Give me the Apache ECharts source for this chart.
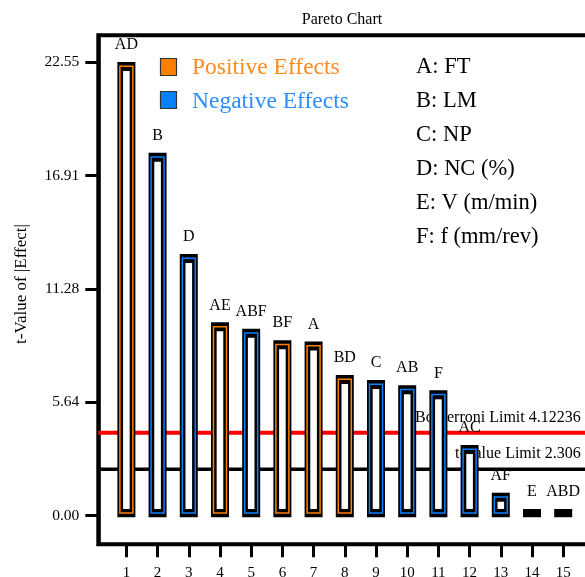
<!DOCTYPE html>
<html>
<head>
<meta charset="utf-8">
<script src="https://cdn.jsdelivr.net/npm/echarts@6/dist/echarts.min.js"></script>
<style>html,body{margin:0;padding:0;background:#fff}#main{width:585px;height:577px}</style>
</head>
<body>
<div id="main"></div>
<script>
// ---- data ----
const categories = ['AD','B','D','AE','ABF','BF','A','BD','C','AB','F','AC','AF','E','ABD'];
const rankNumbers = [1,2,3,4,5,6,7,8,9,10,11,12,13,14,15];
const tValues = [22.55,18.04,13.01,9.61,9.29,8.72,8.66,6.99,6.74,6.48,6.23,3.51,1.14,0.33,0.33];
const effectSign = ['+','-','-','+','-','+','+','+','-','-','-','-','-','-','+'];
const yTickValues = [0, 5.6375, 11.275, 16.9125, 22.55];
const yTickLabels = ['0.00','5.64','11.28','16.91','22.55'];
const bonferroniLimit = 4.12236;
const tValueLimit = 2.306;
const bonferroniText = 'Bonferroni Limit 4.12236';
const tValueText = 't-Value Limit 2.306';
const factorKey = ['A: FT','B: LM','C: NP','D: NC (%)','E: V (m/min)','F: f (mm/rev)'];
const legendNames = ['Positive Effects','Negative Effects'];
const titleText = 'Pareto Chart';
const yAxisTitle = 't-Value of |Effect|';

const ORANGE = '#FF8000', BLUE = '#0A80FF';
const SERIF = '"Liberation Serif", "Times New Roman", serif';
const X_MIN = 0.1, X_MAX = 16;

const chart = echarts.init(document.getElementById('main'), null, {renderer: 'canvas'});

const barData = tValues.map((v, i) => [rankNumbers[i], v, effectSign[i] === '+' ? 1 : 0, i]);

function renderBar(params, api) {
  const x = api.value(0), v = api.value(1), pos = api.value(2), idx = api.value(3);
  const top = api.coord([x, v]);
  const base = api.coord([x, 0]);
  const cx = top[0], yT = top[1], yB = base[1] + 1.6;
  const h = yB - yT;
  const col = pos ? ORANGE : BLUE;
  const children = [
    {type: 'rect', shape: {x: cx - 9, y: yT, width: 18, height: h}, style: {fill: '#000'}}
  ];
  if (h > 9) {
    children.push({type: 'rect', shape: {x: cx - 6.5, y: yT + 4.3, width: 13, height: h - 8.6},
      style: {fill: null, stroke: col, lineWidth: 1.5}});
  }
  if (h > 18) {
    children.push({type: 'rect', shape: {x: cx - 3.3, y: yT + 9, width: 6.6, height: h - 17.3},
      style: {fill: '#fff'}});
  }
  children.push({type: 'text', style: {text: categories[idx], x: cx, y: yT - 17,
    align: 'center', verticalAlign: 'middle', fontSize: 16, fontFamily: SERIF, fill: '#000'}});
  return {type: 'group', children: children};
}

function limitSeries(val, labelX, text, color, width) {
  return {
    type: 'line', z: 1, silent: true, symbol: 'circle', symbolSize: 0.1, showSymbol: true,
    lineStyle: {color: color, width: width}, itemStyle: {color: color},
    data: [
      [X_MIN, val],
      {value: [labelX, val], label: {show: true, position: 'top', distance: 7, align: 'left',
        formatter: text, fontSize: 16, fontFamily: SERIF, color: '#000'}},
      [X_MAX, val]
    ],
    label: {show: false}
  };
}

const option = {
  animation: false,
  backgroundColor: '#fff',
  grid: {left: 98.3, top: 35.3, right: -9.4, bottom: 32.8, show: true,
    borderColor: '#000', borderWidth: 4, backgroundColor: 'transparent', containLabel: false,
    outerBoundsMode: 'none'},
  xAxis: {
    type: 'value', min: X_MIN, max: X_MAX,
    axisLine: {onZero: false, lineStyle: {color: '#000', width: 3}},
    axisTick: {show: true, inside: false, length: 13, customValues: rankNumbers,
      lineStyle: {color: '#000', width: 3}},
    axisLabel: {customValues: rankNumbers, margin: 21, fontSize: 15, fontFamily: SERIF, color: '#000'},
    splitLine: {show: false}
  },
  yAxis: {
    type: 'value', min: -1.42, max: 23.88,
    axisLine: {show: true, onZero: false, lineStyle: {color: '#000', width: 3.5}},
    axisTick: {show: true, inside: false, length: 13, customValues: yTickValues,
      lineStyle: {color: '#000', width: 3}},
    axisLabel: {customValues: yTickValues, margin: 19, fontSize: 15.5, fontFamily: SERIF, color: '#000',
      formatter: function (val) {
        let best = 0;
        yTickValues.forEach((t, i) => { if (Math.abs(t - val) < Math.abs(yTickValues[best] - val)) best = i; });
        return yTickLabels[best];
      }},
    splitLine: {show: false}
  },
  series: [
    limitSeries(bonferroniLimit, 10.25, bonferroniText, '#FF0000', 4),
    limitSeries(tValueLimit, 11.53, tValueText, '#000000', 3.5),
    {type: 'custom', z: 3, renderItem: renderBar, data: barData, clip: false,
      encode: {x: 0, y: 1}}
  ],
  graphic: [
    {type: 'text', x: 342, y: 20, style: {text: titleText, align: 'center', verticalAlign: 'middle',
      fontSize: 16, fontFamily: SERIF, fill: '#000'}},
    {type: 'text', x: 22, y: 284, rotation: Math.PI / 2, style: {text: yAxisTitle, align: 'center',
      verticalAlign: 'middle', fontSize: 17, fontFamily: SERIF, fill: '#000'}},
    {type: 'rect', shape: {x: 160.5, y: 58.5, width: 16, height: 17}, style: {fill: ORANGE, stroke: '#333', lineWidth: 1.2}},
    {type: 'rect', shape: {x: 160.5, y: 91.5, width: 16, height: 17}, style: {fill: BLUE, stroke: '#333', lineWidth: 1.2}},
    {type: 'text', x: 192, y: 68, style: {text: legendNames[0], verticalAlign: 'middle', fontSize: 23.5,
      fontFamily: SERIF, fill: '#FF8A1E'}},
    {type: 'text', x: 192, y: 102, style: {text: legendNames[1], verticalAlign: 'middle', fontSize: 23.5,
      fontFamily: SERIF, fill: '#2B8FFF'}}
  ].concat(factorKey.map((t, i) => ({
    type: 'text', x: 416, y: 67.5 + i * 34, style: {text: t, verticalAlign: 'middle', fontSize: 22.5,
      fontFamily: SERIF, fill: '#000'}
  })))
};
chart.setOption(option);
</script>
</body>
</html>
